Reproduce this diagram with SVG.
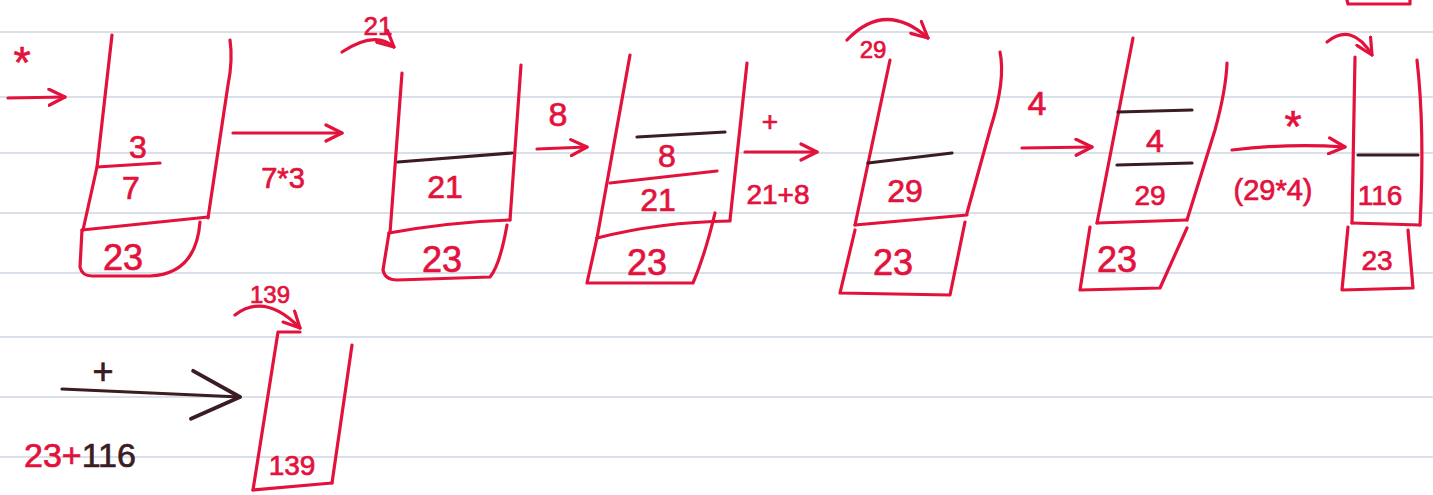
<svg xmlns="http://www.w3.org/2000/svg" width="1433" height="495" viewBox="0 0 1433 495">
<style>
.rule{stroke:#cdd6e2;stroke-width:1.3;fill:none}
.ink{stroke:#e3123c;stroke-width:3.2;fill:none;stroke-linecap:round;stroke-linejoin:round}
.dk{stroke:#3b1c22;stroke-width:3.2;fill:none;stroke-linecap:round;stroke-linejoin:round}
.t{font-family:"Liberation Sans",Arial,sans-serif;fill:#e3123c;stroke:#e3123c;stroke-width:0.7;text-anchor:middle}
.td{fill:#3b1c22;stroke:#3b1c22}
</style>
<defs>
<marker id="ah" viewBox="0 0 12 12" refX="11" refY="6" markerWidth="6" markerHeight="6" orient="auto" markerUnits="strokeWidth">
<path d="M1,1 L11,6 L1,11" fill="none" stroke="#e3123c" stroke-width="2" stroke-linecap="round" stroke-linejoin="round"/>
</marker>
<marker id="ahd" viewBox="0 0 12 12" refX="11" refY="6" markerWidth="18" markerHeight="18" orient="auto" markerUnits="strokeWidth">
<path d="M1,1 L11,6 L1,11" fill="none" stroke="#3b1c22" stroke-width="0.8" stroke-linecap="round" stroke-linejoin="round"/>
</marker>
</defs>
<rect width="1433" height="495" fill="#ffffff"/>
<g id="ruling">
<line class="rule" x1="0" y1="32" x2="1433" y2="32"/>
<line class="rule" x1="0" y1="97" x2="1433" y2="97"/>
<line class="rule" x1="0" y1="153" x2="1433" y2="153"/>
<line class="rule" x1="0" y1="213" x2="1433" y2="213"/>
<line class="rule" x1="0" y1="273" x2="1433" y2="273"/>
<line class="rule" x1="0" y1="337" x2="1433" y2="337"/>
<line class="rule" x1="0" y1="397" x2="1433" y2="397"/>
<line class="rule" x1="0" y1="457" x2="1433" y2="457"/>
</g>
<path class="ink" d="M1347,0 L1348,4 L1410,4 L1410,0"/>
<g id="connectors">
<path class="ink" d="M8,98 L65,97" marker-end="url(#ah)"/>
<text class="t" x="22" y="78" font-size="44">*</text>
<path class="ink" d="M233,133 L342,133" marker-end="url(#ah)"/>
<text class="t" x="283" y="188" font-size="29">7*3</text>
<path class="ink" d="M342,52 Q375,30 394,47" marker-end="url(#ah)"/>
<text class="t" x="378" y="35" font-size="26">21</text>
<path class="ink" d="M537,149 L587,147" marker-end="url(#ah)"/>
<text class="t" x="558" y="126" font-size="34">8</text>
<path class="ink" d="M745,152 L817,152" marker-end="url(#ah)"/>
<text class="t" x="770" y="131" font-size="28">+</text>
<text class="t" x="778" y="204" font-size="28">21+8</text>
<path class="ink" d="M847,40 Q885,0 928,38" marker-end="url(#ah)"/>
<text class="t" x="873" y="58" font-size="24">29</text>
<path class="ink" d="M1022,148 L1092,147" marker-end="url(#ah)"/>
<text class="t" x="1037" y="115" font-size="34">4</text>
<path class="ink" d="M1232,150 Q1290,143 1345,147" marker-end="url(#ah)"/>
<text class="t" x="1293" y="142" font-size="44">*</text>
<text class="t" x="1273" y="200" font-size="29">(29*4)</text>
<path class="ink" d="M1327,42 Q1352,22 1372,55" marker-end="url(#ah)"/>
<path class="dk" d="M62,389 L240,397" marker-end="url(#ahd)"/>
<text class="t td" x="103" y="384" font-size="36">+</text>
<text class="t" x="80" y="467" font-size="34">23+<tspan class="td">116</tspan></text>
<path class="ink" d="M235,315 Q265,292 300,328" marker-end="url(#ah)"/>
<text class="t" x="270" y="303" font-size="24">139</text>
</g>
<g id="stack1">
<path class="ink" d="M112,35 L97,167 L83,230"/>
<path class="ink" d="M230,40 Q233,60 228,85 L208,218"/>
<path class="ink" d="M82,230 L208,217"/>
<path class="ink" d="M97,167 L160,163"/>
<path class="ink" d="M82,230 L80,267 Q82,276 92,276 L150,276 Q196,274 200,222"/>
<text class="t" x="138" y="158" font-size="32">3</text>
<text class="t" x="131" y="199" font-size="32">7</text>
<text class="t" x="123" y="270" font-size="36">23</text>
</g>
<g id="stack2">
<path class="ink" d="M402,73 L390,233"/>
<path class="ink" d="M521,65 L510,220"/>
<path class="dk" d="M398,162 L512,153"/>
<path class="ink" d="M389,233 Q450,222 510,220"/>
<path class="ink" d="M389,233 L383,270 Q385,280 397,280 L490,277 Q500,265 507,225"/>
<text class="t" x="445" y="198" font-size="32">21</text>
<text class="t" x="442" y="272" font-size="36">23</text>
</g>
<g id="stack3">
<path class="ink" d="M630,55 L597,238"/>
<path class="ink" d="M747,63 L730,220"/>
<path class="dk" d="M637,137 L725,132"/>
<path class="ink" d="M610,183 L717,171"/>
<path class="ink" d="M597,238 Q660,222 730,221"/>
<path class="ink" d="M597,238 L587,283 L693,283 Q705,255 715,213"/>
<text class="t" x="667" y="167" font-size="32">8</text>
<text class="t" x="658" y="211" font-size="32">21</text>
<text class="t" x="647" y="275" font-size="36">23</text>
</g>
<g id="stack4">
<path class="ink" d="M890,60 L855,225"/>
<path class="ink" d="M1000,52 Q1006,80 990,130 L967,213"/>
<path class="dk" d="M868,163 L952,153"/>
<path class="ink" d="M855,225 L967,215"/>
<path class="ink" d="M855,230 L840,293 L950,295 L965,222"/>
<text class="t" x="905" y="202" font-size="32">29</text>
<text class="t" x="893" y="275" font-size="36">23</text>
</g>
<g id="stack5">
<path class="ink" d="M1133,38 L1097,223"/>
<path class="ink" d="M1227,63 Q1226,90 1215,130 L1187,220"/>
<path class="dk" d="M1118,112 L1192,110"/>
<path class="dk" d="M1117,165 L1192,163"/>
<path class="ink" d="M1097,223 L1187,220"/>
<path class="ink" d="M1090,227 L1080,290 L1160,288 L1187,228"/>
<text class="t" x="1155" y="152" font-size="32">4</text>
<text class="t" x="1150" y="205" font-size="28">29</text>
<text class="t" x="1117" y="272" font-size="36">23</text>
</g>
<g id="stack6">
<path class="ink" d="M1355,57 L1352,223"/>
<path class="ink" d="M1417,60 Q1425,130 1420,225"/>
<path class="dk" d="M1358,155 L1418,155"/>
<path class="ink" d="M1352,223 L1420,225"/>
<path class="ink" d="M1348,227 L1342,290 L1413,288 L1408,230"/>
<text class="t" x="1380" y="205" font-size="28">116</text>
<text class="t" x="1377" y="270" font-size="28">23</text>
</g>
<g id="stack7">
<path class="ink" d="M300,332 L278,332 L253,490"/>
<path class="ink" d="M352,345 L332,483"/>
<path class="ink" d="M253,490 L332,483"/>
<text class="t" x="292" y="475" font-size="28">139</text>
</g>
</svg>
